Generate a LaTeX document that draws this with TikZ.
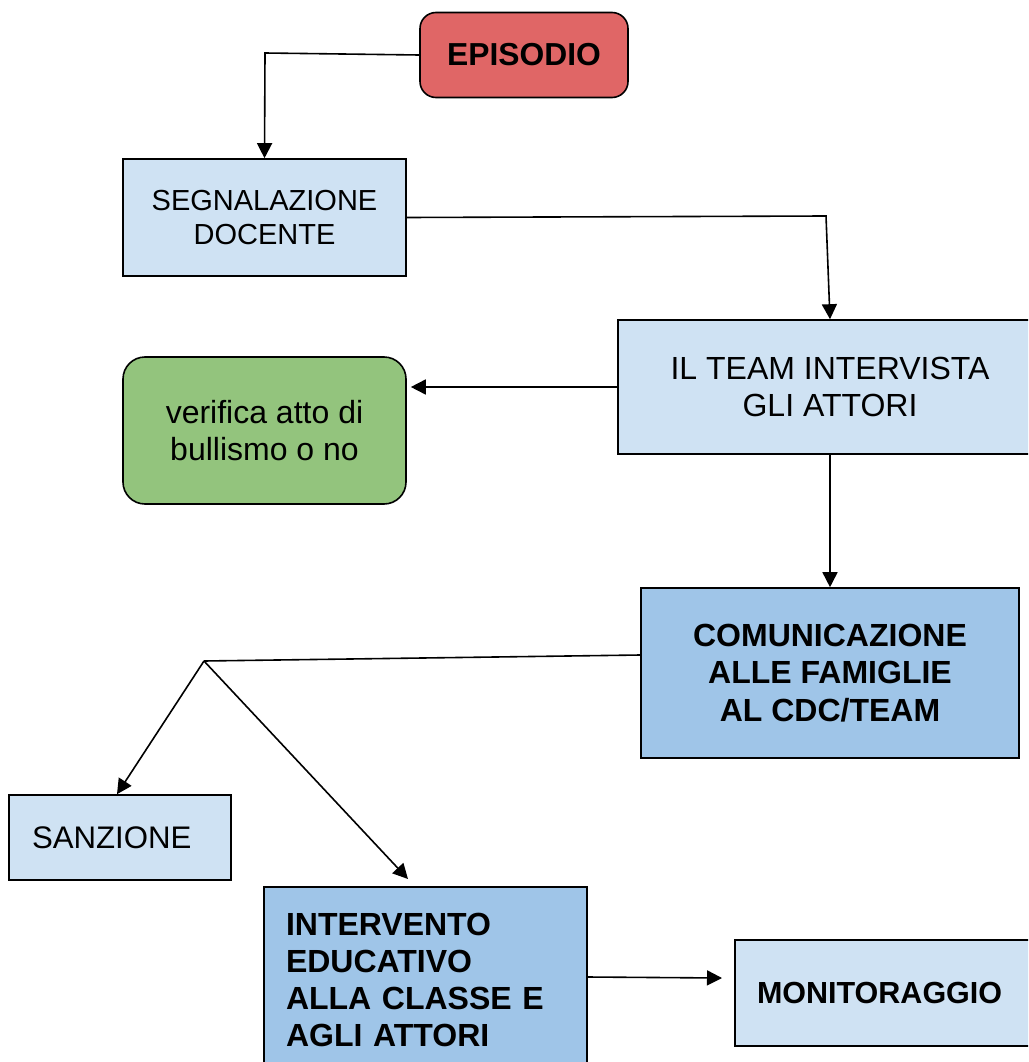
\documentclass[tikz,border=0pt]{standalone}
\usepackage{fontspec}
\setmainfont{Liberation Sans}
\usetikzlibrary{arrows.meta}
\definecolor{epired}{HTML}{E06666}
\definecolor{lblue}{HTML}{CFE2F3}
\definecolor{mblue}{HTML}{9FC5E8}
\definecolor{lgreen}{HTML}{93C47D}
\begin{document}
\begin{tikzpicture}[x=1pt,y=-1pt,
  box/.style={draw=black, line width=1.6pt, inner sep=0pt, align=center, text=black},
  conn/.style={line width=1.6pt, draw=black},
  arr/.style={conn, -{Triangle[length=15pt,width=15pt]}},
]
\useasboundingbox (0,0) rectangle (1028,1062);
\clip (0,0) rectangle (1028,1062);
\fill[white] (0,0) rectangle (1028,1062);

\node[box, fill=epired, rounded corners=16pt, minimum width=208pt, minimum height=85pt,
  font=\fontsize{31.8}{36}\selectfont\bfseries] (epi) at (524,55) {EPISODIO};
\node[box, fill=lblue, minimum width=283pt, minimum height=117pt,
  font=\fontsize{29}{34}\selectfont] (seg) at (264.5,217.5) {SEGNALAZIONE\\DOCENTE};
\node[box, fill=lblue, minimum width=424pt, minimum height=134pt,
  font=\fontsize{32}{37}\selectfont] (team) at (830,387) {IL TEAM INTERVISTA\\GLI ATTORI};
\node[box, fill=lgreen, rounded corners=22pt, minimum width=283pt, minimum height=147pt,
  font=\fontsize{32}{37}\selectfont] (ver) at (264.5,430.5) {verifica atto di\\bullismo o no};
\node[box, fill=mblue, minimum width=378pt, minimum height=170pt,
  font=\fontsize{32}{37.5}\selectfont\bfseries] (com) at (830,673) {COMUNICAZIONE\\ALLE FAMIGLIE\\AL CDC/TEAM};
\node[box, fill=lblue, minimum width=222pt, minimum height=85pt, inner xsep=23pt,
  text width=176pt, align=left,
  font=\fontsize{31.2}{35}\selectfont] (sanz) at (120,837.5) {SANZIONE};
\node[box, fill=mblue, minimum width=323pt, minimum height=186pt, inner xsep=22pt,
  text width=279pt, align=left,
  font=\fontsize{32}{37.3}\selectfont\bfseries] (interv) at (425.5,980) {INTERVENTO\\EDUCATIVO\\ALLA~CLASSE~E\\AGLI~ATTORI};
\node[box, fill=lblue, minimum width=319pt, minimum height=106pt, inner xsep=22pt,
  text width=275pt, align=left,
  font=\fontsize{30.5}{35}\selectfont\bfseries] (mon) at (894.5,993) {MONITORAGGIO};

\coordinate (c1) at (265,53);
\coordinate (c2) at (826,216);
\coordinate (c3) at (204,661);
\coordinate (c4) at (408,879);
\coordinate (c5) at (722,978);

\draw[arr] (epi.west) -- (c1) -- (seg.north);
\draw[arr] (seg.east) -- (c2) -- (team.north);
\draw[arr, shorten >=4pt] (team.west) -- (ver.east |- team.west);
\draw[arr] (team.south) -- (com.north);
\draw[conn] ([yshift=18pt]com.west) -- (c3);
\draw[arr] (c3) -- ([xshift=-3pt]sanz.north);
\draw[arr] (c3) -- (c4);
\draw[arr] ([yshift=3pt]interv.east) -- (c5);
\end{tikzpicture}
\end{document}
